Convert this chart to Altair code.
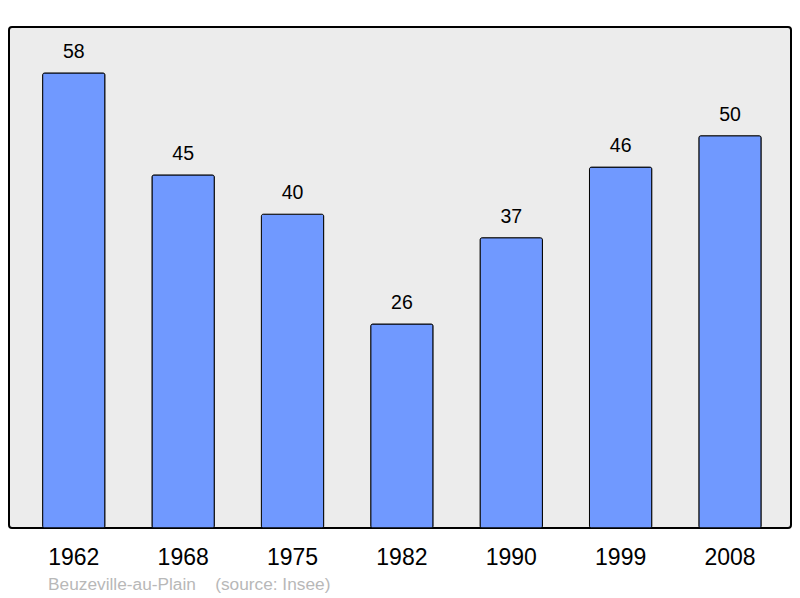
import altair as alt
import pandas as pd

years = ["1962", "1968", "1975", "1982", "1990", "1999", "2008"]
population = [58, 45, 40, 26, 37, 46, 50]
footer = "Beuzeville-au-Plain\u00a0\u00a0\u00a0\u00a0(source: Insee)"

df = pd.DataFrame({"year": years, "pop": population})

FONT = "Liberation Sans"

x = alt.X("year:N", sort=years,
          scale=alt.Scale(paddingInner=0.43, paddingOuter=0.29, align=0.53),
          axis=alt.Axis(title=None, labelAngle=0, labelFontSize=23, labelColor="#000000",
                        labelFont=FONT, domain=False, ticks=False, labelPadding=18, grid=False))
y = alt.Y("pop:Q", scale=alt.Scale(domain=[0, 63.86], nice=False, zero=True),
          axis=None)

bars = alt.Chart(df).mark_bar(color="#7099ff", stroke="#000000", strokeWidth=1,
                              cornerRadius=2).encode(x=x, y=y)
labels = alt.Chart(df).mark_text(dy=-21, fontSize=19.5, font=FONT, color="#000000",
                                 baseline="middle").encode(x=x, y=y, text="pop:Q")
foot = alt.Chart(pd.DataFrame({"t": [footer]})).mark_text(
    fontSize=17.3, font=FONT, color="#b8b8b8", align="left", baseline="middle"
).encode(x=alt.value(39), y=alt.value(558), text="t:N")

chart = (bars + labels + foot).properties(
    width=782, height=501,
    autosize=alt.AutoSizeParams(type="none"),
    padding={"left": 1, "top": 19, "right": 1, "bottom": 70},
).configure_view(fill="#ececec", stroke="#000000", strokeWidth=2, cornerRadius=3)

chart.save("out.html", embed_options={"renderer": "svg", "actions": False})
